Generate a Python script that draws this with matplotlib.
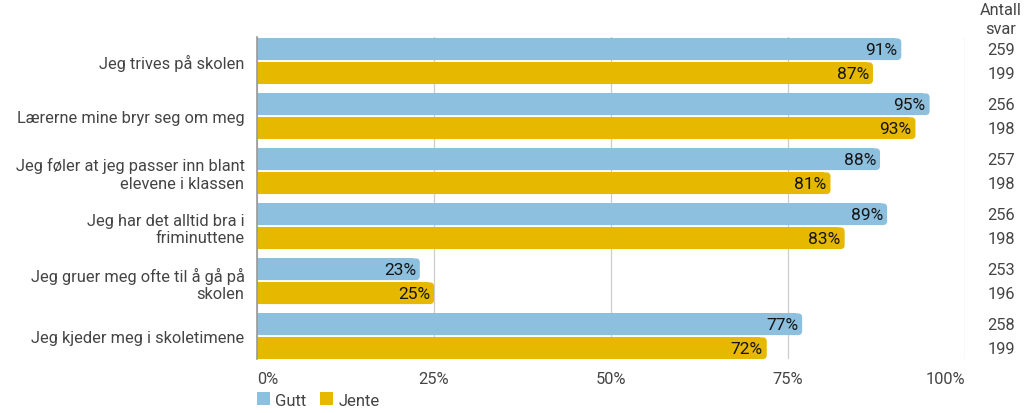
import matplotlib
matplotlib.use("Agg")
import matplotlib.pyplot as plt
from matplotlib.patches import FancyBboxPatch, Rectangle, Patch
import numpy as np

plt.rcParams['font.family'] = ['Roboto', 'DejaVu Sans']

categories = [
    "Jeg trives på skolen",
    "Lærerne mine bryr seg om meg",
    "Jeg føler at jeg passer inn blant\nelevene i klassen",
    "Jeg har det alltid bra i\nfriminuttene",
    "Jeg gruer meg ofte til å gå på\nskolen",
    "Jeg kjeder meg i skoletimene",
]
gutt = [91, 95, 88, 89, 23, 77]
jente = [87, 93, 81, 83, 25, 72]
antall_gutt = [259, 256, 257, 256, 253, 258]
antall_jente = [199, 198, 198, 198, 196, 199]
series_names = ["Gutt", "Jente"]
xticks = [0, 25, 50, 75, 100]
xticklabels = ["0%", "25%", "50%", "75%", "100%"]

BLUE = "#8dc0de"
YELLOW = "#e6b800"
TXT = "#444444"

fig = plt.figure(figsize=(10.24, 4.14), dpi=100)
ax = fig.add_axes([257/1024, 1-360/414, 708/1024, (360-38)/414])

y = np.arange(len(categories))
off = 0.218
h = 0.395
rx = 0.6  # rounding in x data units
aspect = (4/55) / rx

for vals, dy, col in [(gutt, -off, BLUE), (jente, off, YELLOW)]:
    bars = ax.barh(y + dy, vals, height=h, color=col)
    for b, v in zip(bars, vals):
        x0, y0 = b.get_x(), b.get_y()
        w, hh = b.get_width(), b.get_height()
        b.set_visible(False)
        ax.add_patch(FancyBboxPatch((x0, y0), w, hh,
                                    boxstyle=f"round,pad=0,rounding_size={rx}",
                                    mutation_aspect=aspect, fc=col, ec='none', zorder=3))
        ax.add_patch(Rectangle((x0, y0), w - rx*1.5, hh, fc=col, ec='none', zorder=3))
        ax.text(w - 0.55, y0 + hh/2 + 0.01, f"{v}%", ha='right', va='center',
                fontsize=12.5, color='#141414', zorder=4)

ax.set_xlim(0, 100)
ax.set_ylim(len(categories) - 1 + 0.414, -0.44)
ax.set_xticks(xticks)
ax.set_xticklabels(xticklabels)
for lbl, ha in zip(ax.get_xticklabels(), ['left', 'center', 'center', 'center', 'right']):
    lbl.set_ha(ha)
ax.tick_params(axis='x', length=0, pad=9, labelsize=11.8, labelcolor=TXT)
ax.set_yticks(y)
ax.set_yticklabels(categories, fontsize=11.8, color=TXT, multialignment='right')
ax.tick_params(axis='y', length=0, pad=9)
for s in ['top', 'right', 'bottom']:
    ax.spines[s].set_visible(False)
ax.spines['left'].set_color('#999999')
ax.spines['left'].set_linewidth(1.2)
ax.spines['left'].set_zorder(5)
ax.grid(axis='x', color='#cccccc', linewidth=0.9, zorder=0)
ax.set_axisbelow(True)

# counts column
for i in range(len(categories)):
    ax.text(1.0 + 36/708, (y[i] - off), str(antall_gutt[i]), transform=ax.get_yaxis_transform(),
            ha='center', va='center', fontsize=11.8, color=TXT, clip_on=False)
    ax.text(1.0 + 36/708, (y[i] + off), str(antall_jente[i]), transform=ax.get_yaxis_transform(),
            ha='center', va='center', fontsize=11.8, color=TXT, clip_on=False)
fig.text(1001/1024, 1 - 20/414, "Antall\nsvar", ha='center', va='center',
         fontsize=11.8, color=TXT, linespacing=1.3)

handles = [Patch(fc=BLUE, ec='none'), Patch(fc=YELLOW, ec='none')]
leg = fig.legend(handles, series_names, loc='center left', bbox_to_anchor=(257/1024, 1 - 401/414),
                 ncol=2, frameon=False, fontsize=12, handlelength=0.8, handleheight=0.8,
                 handletextpad=0.3, columnspacing=0.8, borderpad=0, borderaxespad=0)
for t in leg.get_texts():
    t.set_color(TXT)

fig.savefig("out.png", dpi=100)
